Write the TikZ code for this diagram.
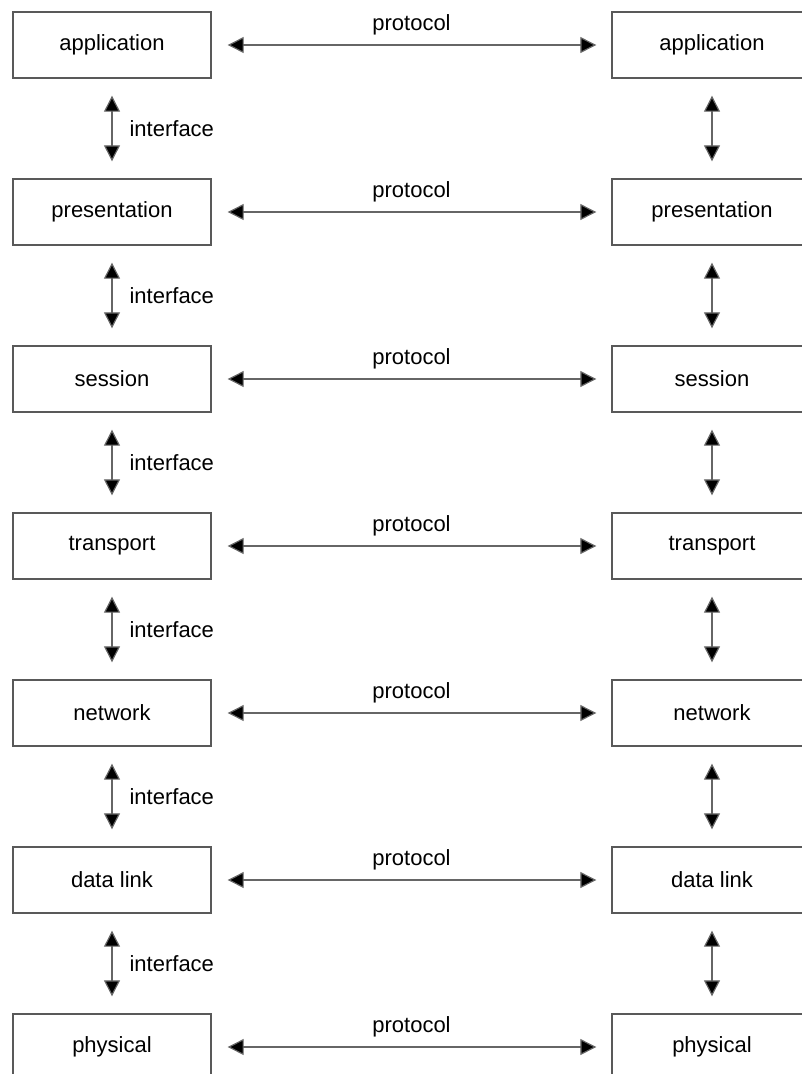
\documentclass[tikz,border=0pt]{standalone}
\usepackage{fontspec}
\setmainfont{Liberation Sans}
\usepackage{tikz}
\usetikzlibrary{arrows.meta}
\usetikzlibrary{calc}
\usetikzlibrary{positioning}

\tikzset{
  layer/.style={draw=black!65, line width=1.4pt, minimum height=66pt,
    inner sep=0pt, font=\fontsize{22}{26}\selectfont},
  link/.style={draw=black!60, line width=1.2pt,
    {Triangle[length=16pt,width=16pt,fill=black]}-{Triangle[length=16pt,width=16pt,fill=black]}},
  lbl/.style={font=\fontsize{22}{26}\selectfont, inner sep=0pt}
}

\begin{document}
\begin{tikzpicture}[x=1pt, y=-1pt]

    \useasboundingbox (0, 0) rectangle (802, 1074);
    \clip (0, 0) rectangle (802, 1074);

    \foreach \name [count=\i] in {application, presentation, session,
      transport, network, data link, physical} {
      \node[layer, minimum width=198pt] (left\i) at (112, {45+167*(\i-1)}) {\name};
      \node[layer, minimum width=200pt] (right\i) at (712, {45+167*(\i-1)}) {\name};
      \draw[link, shorten <=16pt, shorten >=15pt] (left\i) --
      node[lbl, midway, anchor=base, yshift=15pt] {protocol} (right\i);
    }

    \foreach \i [evaluate=\i as \j using int(\i+1)] in {1, ..., 6} {
      \draw[link, shorten <=17pt, shorten >=17pt] (left\i) --
      node[lbl, midway, right=17pt] {interface} (left\j);
      \draw[link, shorten <=17pt, shorten >=17pt] (right\i) -- (right\j);
    }

  \end{tikzpicture}
\end{document}
